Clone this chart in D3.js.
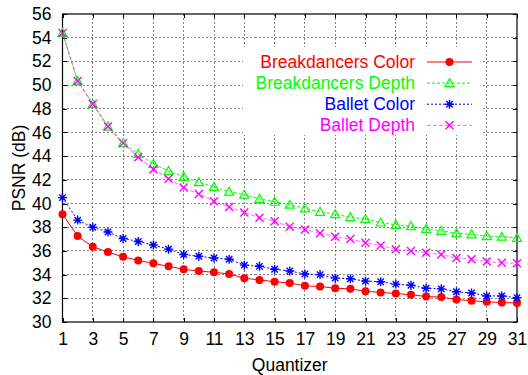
<!DOCTYPE html>
<html>
<head>
<meta charset="utf-8">
<script src="https://cdn.jsdelivr.net/npm/d3@7"></script>
<style>
  body { margin: 0; background: #fff; }
  svg { display: block; font-family: "Liberation Sans", Arial, sans-serif; }
</style>
</head>
<body>
<div id="chart"></div>
<script>
// quantizer steps
var quantizer = d3.range(1, 32);
var xTicks = [1, 3, 5, 7, 9, 11, 13, 15, 17, 19, 21, 23, 25, 27, 29, 31];
var yTicks = [30, 32, 34, 36, 38, 40, 42, 44, 46, 48, 50, 52, 54, 56];

var breakdancersColor = [39.1, 37.25, 36.35, 35.9, 35.5, 35.2, 34.95, 34.7, 34.45, 34.3,
  34.2, 34.05, 33.7, 33.55, 33.4, 33.3, 33.05, 33.0, 32.85, 32.8,
  32.6, 32.5, 32.4, 32.3, 32.15, 32.1, 31.9, 31.8, 31.7, 31.65, 31.6];
var breakdancersDepth = [54.4, 50.35, 48.4, 46.5, 45.1, 44.2, 43.35, 42.75, 42.25, 41.8,
  41.4, 41.0, 40.75, 40.4, 40.15, 39.9, 39.6, 39.3, 39.1, 38.85,
  38.7, 38.4, 38.2, 38.1, 37.85, 37.7, 37.5, 37.4, 37.25, 37.2, 37.1];
var balletColor = [40.5, 38.6, 38.0, 37.6, 37.05, 36.8, 36.5, 36.15, 35.7, 35.55,
  35.4, 35.3, 34.8, 34.7, 34.45, 34.3, 34.05, 34.0, 33.7, 33.65,
  33.45, 33.4, 33.2, 33.1, 32.85, 32.8, 32.55, 32.45, 32.2, 32.2, 32.05];
var balletDepth = [54.4, 50.35, 48.4, 46.5, 45.1, 43.9, 42.9, 42.1, 41.35, 40.8,
  40.2, 39.7, 39.25, 38.8, 38.5, 38.05, 37.8, 37.5, 37.2, 37.0,
  36.7, 36.45, 36.15, 36.0, 35.85, 35.7, 35.4, 35.3, 35.1, 35.0, 34.95];

var series = [
  { name: 'Breakdancers Color', values: breakdancersColor, color: '#ff0000', dash: null, mark: 'circle' },
  { name: 'Breakdancers Depth', values: breakdancersDepth, color: '#00ff00', dash: '3,2', mark: 'triangle' },
  { name: 'Ballet Color', values: balletColor, color: '#0000ff', dash: '2,2', mark: 'star' },
  { name: 'Ballet Depth', values: balletDepth, color: '#ff00ff', dash: '4,2', mark: 'cross' }
];

var width = 528, height = 375;
var plotL = 62.5, plotR = 517, plotT = 14, plotB = 322;
var fontSize = '17.5px';

var svg = d3.select('#chart').append('svg')
  .attr('width', width)
  .attr('height', height);

var x = d3.scaleLinear().domain([1, 31]).range([plotL, plotR]);
var y = d3.scaleLinear().domain([30, 56]).range([plotB, plotT]);

// grid
var grid = svg.append('g').attr('class', 'grid');
grid.selectAll('.vg').data(xTicks.slice(1, -1)).enter().append('line')
  .attr('x1', function(d) { return x(d); })
  .attr('x2', function(d) { return x(d); })
  .attr('y1', plotT).attr('y2', plotB);
grid.selectAll('.hg').data(yTicks.slice(1, -1)).enter().append('line')
  .attr('y1', function(d) { return y(d); })
  .attr('y2', function(d) { return y(d); })
  .attr('x1', plotL).attr('x2', plotR);
grid.selectAll('line')
  .attr('stroke', '#808080')
  .attr('stroke-width', 1)
  .attr('stroke-dasharray', '2,2')
  .attr('shape-rendering', 'crispEdges');

// legend background hides grid
svg.append('rect')
  .attr('x', 243).attr('y', 47)
  .attr('width', 240).attr('height', 88)
  .attr('fill', '#fff');

// axes with inward ticks
var tickLen = 4;
svg.append('g')
  .attr('transform', 'translate(0,' + plotB + ')')
  .call(d3.axisBottom(x).tickValues(xTicks).tickSize(-tickLen).tickPadding(11).tickFormat(d3.format('d')));
svg.append('g')
  .attr('transform', 'translate(0,' + plotT + ')')
  .call(d3.axisTop(x).tickValues(xTicks).tickSize(-tickLen).tickFormat(''));
svg.append('g')
  .attr('transform', 'translate(' + plotL + ',0)')
  .call(d3.axisLeft(y).tickValues(yTicks).tickSize(-tickLen).tickPadding(11).tickFormat(d3.format('d')));
svg.append('g')
  .attr('transform', 'translate(' + plotR + ',0)')
  .call(d3.axisRight(y).tickValues(yTicks).tickSize(-tickLen).tickFormat(''));

svg.selectAll('.domain').remove();
svg.selectAll('.tick line').attr('stroke', '#000').attr('shape-rendering', 'crispEdges');
svg.selectAll('.tick text')
  .attr('fill', '#000')
  .style('font-size', fontSize)
  .style('font-family', '"Liberation Sans", Arial, sans-serif');

// frame
svg.append('rect')
  .attr('x', plotL).attr('y', plotT)
  .attr('width', plotR - plotL).attr('height', plotB - plotT)
  .attr('fill', 'none')
  .attr('stroke', '#000')
  .attr('stroke-width', 1.2);

// axis titles
svg.append('text')
  .attr('x', (plotL + plotR) / 2)
  .attr('y', 371)
  .attr('text-anchor', 'middle')
  .style('font-size', fontSize)
  .text('Quantizer');
svg.append('text')
  .attr('transform', 'translate(19,' + ((plotT + plotB) / 2) + ') rotate(-90)')
  .attr('text-anchor', 'middle')
  .attr('dy', '0.35em')
  .style('font-size', fontSize)
  .text('PSNR (dB)');

function drawMark(g, type, color) {
  if (type === 'circle') {
    g.append('circle').attr('r', 4).attr('fill', color);
  } else if (type === 'triangle') {
    g.append('path').attr('d', 'M0,-4.5L4.5,3.5L-4.5,3.5Z')
      .attr('fill', 'none').attr('stroke', color).attr('stroke-width', 1.2);
  } else if (type === 'star') {
    g.append('path').attr('d', 'M-4.5,0H4.5M0,-4.5V4.5M-3.2,-3.2L3.2,3.2M-3.2,3.2L3.2,-3.2')
      .attr('stroke', color).attr('stroke-width', 1.4);
  } else {
    g.append('path').attr('d', 'M-4,-4L4,4M-4,4L4,-4')
      .attr('stroke', color).attr('stroke-width', 1.4);
  }
}

var line = d3.line()
  .x(function(d, i) { return x(quantizer[i]); })
  .y(function(d) { return y(d); });

series.forEach(function(s) {
  var g = svg.append('g');
  g.append('path')
    .datum(s.values)
    .attr('d', line)
    .attr('fill', 'none')
    .attr('stroke', s.color)
    .attr('stroke-width', s.mark === 'cross' ? 1.2 : 1)
    .attr('stroke-opacity', s.mark === 'cross' ? 0.5 : 1)
    .attr('stroke-dasharray', s.dash);
  s.values.forEach(function(v, i) {
    var m = g.append('g').attr('transform', 'translate(' + x(quantizer[i]) + ',' + y(v) + ')');
    drawMark(m, s.mark, s.color);
  });
});

// legend
var legend = svg.append('g');
series.forEach(function(s, i) {
  var ly = 62 + i * 21.1;
  legend.append('text')
    .attr('x', 415).attr('y', ly)
    .attr('dy', '0.35em')
    .attr('text-anchor', 'end')
    .attr('fill', s.color)
    .style('font-size', fontSize)
    .text(s.name);
  legend.append('line')
    .attr('x1', 427).attr('x2', 472)
    .attr('y1', ly).attr('y2', ly)
    .attr('stroke', s.color)
    .attr('stroke-width', s.mark === 'cross' ? 1.2 : 1)
    .attr('stroke-opacity', s.mark === 'cross' ? 0.5 : 1)
    .attr('stroke-dasharray', s.dash);
  var m = legend.append('g').attr('transform', 'translate(449.5,' + ly + ')');
  drawMark(m, s.mark, s.color);
});
</script>
</body>
</html>
